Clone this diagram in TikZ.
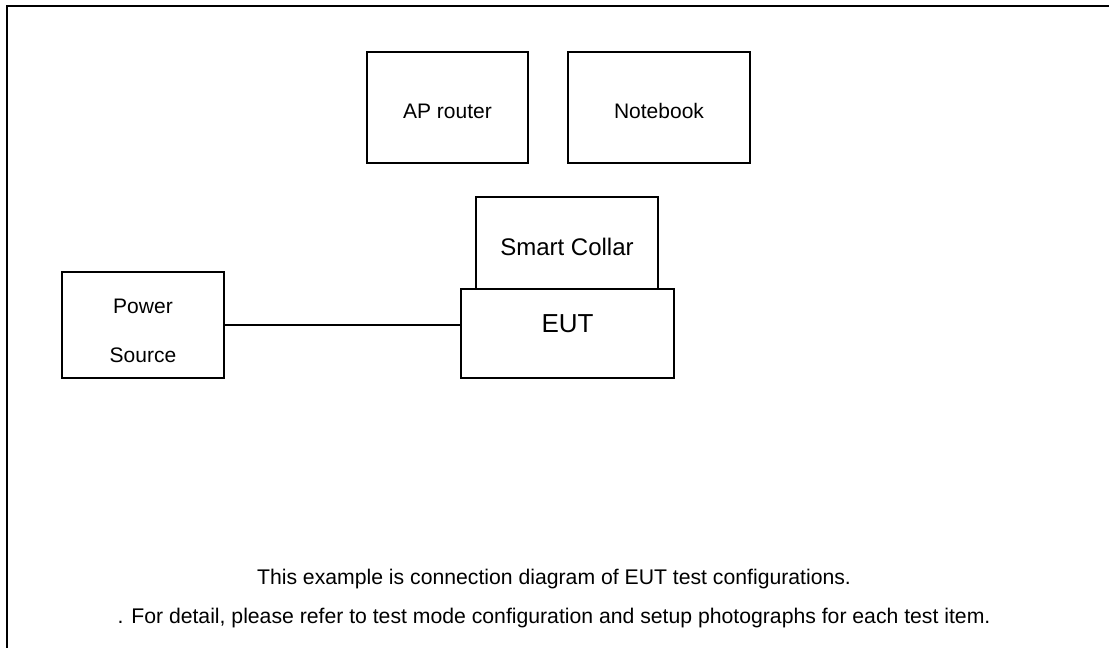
\documentclass[tikz,border=0pt]{standalone}
\usepackage{fontspec}
\setmainfont{Liberation Sans}
\begin{document}
\begin{tikzpicture}[x=1pt,y=-1pt,
  box/.style={draw=black,line width=1.2pt,inner sep=0pt,anchor=center},
  fs/.style={font=\fontsize{#1}{#1}\selectfont},
  note/.style={fs=21.2,inner sep=0pt,anchor=center}]
\useasboundingbox (0,0) rectangle (1109,648);
\draw[line width=2.7pt] (7,648) -- (7,6) -- (1109,6);
% boxes
\node[box,fs=21,minimum width=161pt,minimum height=111pt,text height=21pt,text depth=0pt] (ap) at (447.5,107.5) {AP router};
\node[box,fs=21,minimum width=182pt,minimum height=111pt,text height=21pt,text depth=0pt] (nb) at (659,107.5) {Notebook};
\node[box,fs=24,minimum width=182pt,minimum height=92pt,text height=25pt,text depth=0pt] (sc) at (567,243) {Smart Collar};
\node[box,fs=26,minimum width=213pt,minimum height=89pt,text height=18.6pt,text depth=20pt] (eut) at (567.5,333.5) {EUT};
\node[box,minimum width=162pt,minimum height=106pt,
  label={[align=center,inner sep=0pt,font=\fontsize{21}{49}\selectfont,yshift=-6pt]center:Power\\Source}] (ps) at (143,325) {};
% connector
\draw[line width=1.5pt] (ps.east) -- (ps.east -| eut.west);
% notes
\node[note] (n1) at (554,579) {This example is connection diagram of EUT test configurations.};
\node[note] (n2) at (554,618) {. For detail, please refer to test mode configuration and setup photographs for each test item.};
\end{tikzpicture}
\end{document}
